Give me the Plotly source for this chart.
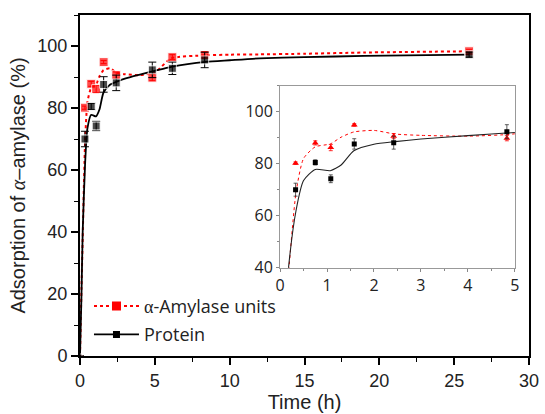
import plotly.graph_objects as go

# ---- data ----
time_h = [0, 0.33, 0.75, 1.08, 1.58, 2.42, 4.83, 6.17, 8.33, 26]
protein = [0, 70.0, 80.5, 74.2, 87.6, 88.1, 92.3, 92.8, 95.5, 97.2]
protein_err = [0, 2.5, 1.0, 1.5, 2.5, 2.5, 2.5, 2.0, 2.5, 0.8]
units = [0, 80.1, 87.8, 86.1, 94.8, 90.6, 89.8, 96.4, 97.1, 98.3]
units_err = [0, 0.5, 0.8, 1.2, 0.5, 1.0, 1.0, 0.8, 1.0, 0.5]

inset_time = [0.33, 0.75, 1.08, 1.58, 2.42, 4.83]
inset_protein = [70.0, 80.5, 74.2, 87.6, 88.1, 92.3]
inset_protein_err = [2.5, 1.0, 1.5, 2.0, 2.5, 2.7]
inset_units = [80.2, 88.0, 86.2, 94.9, 90.6, 89.8]
inset_units_err = [0.5, 0.8, 1.2, 0.5, 1.0, 1.0]

fit_time = [0, 0.1, 0.18, 0.34, 0.5, 0.75, 1.07, 1.3, 1.57, 2.0, 2.45, 3.0, 4.0, 5.0, 6.1, 8.4, 10, 12, 15, 19, 26]
fit_protein = [0, 20, 40, 62, 73.5, 77.8, 77.3, 79.5, 85, 87.5, 88.5, 89.5, 90.8, 92.0, 93.3, 94.9, 95.4, 96.0, 96.4, 96.8, 97.2]
fit_units = [0, 22, 38, 69, 82, 86.5, 87.6, 90.2, 92.2, 92.8, 91.4, 90.9, 90.6, 91.5, 96.0, 97.0, 97.2, 97.3, 97.5, 97.9, 98.3]

x_ticks = [0, 5, 10, 15, 20, 25, 30]
y_ticks = [0, 20, 40, 60, 80, 100]

RED = "#ff0000"
BLK = "#000000"
FONT = "Liberation Sans"

# marker sizes: the t=0 point is drawn as a tiny dot
units_size = [0 if t == 0 else 9 for t in time_h]
protein_size = [4 if t == 0 else 8 for t in time_h]

fig = go.Figure()

# main fits
fig.add_trace(go.Scatter(x=fit_time, y=fit_units, mode="lines", showlegend=False,
                         line=dict(color=RED, width=2, dash="dot", shape="spline", smoothing=0.6)))
fig.add_trace(go.Scatter(x=fit_time, y=fit_protein, mode="lines", showlegend=False,
                         line=dict(color=BLK, width=1.8, shape="spline", smoothing=0.6)))
# main markers
fig.add_trace(go.Scatter(x=time_h, y=units, mode="markers", showlegend=False,
                         marker=dict(symbol="square", size=units_size, color=RED),
                         error_y=dict(type="data", array=units_err, color=RED, thickness=1, width=3)))
fig.add_trace(go.Scatter(x=time_h, y=protein, mode="markers", showlegend=False,
                         marker=dict(symbol="square", size=protein_size, color=BLK),
                         error_y=dict(type="data", array=protein_err, color=BLK, thickness=1, width=4)))
# legend entries
fig.add_trace(go.Scatter(x=[None], y=[None], mode="lines+markers",
                         name="<span style='font-family:Liberation Serif'>α</span>-Amylase units",
                         legendgroup="a", line=dict(color=RED, width=2, dash="dot"),
                         marker=dict(symbol="square", size=9, color=RED)))
fig.add_trace(go.Scatter(x=[None], y=[None], mode="lines+markers", name="Protein",
                         legendgroup="b", line=dict(color=BLK, width=1.8),
                         marker=dict(symbol="square", size=7, color=BLK)))

# inset
fig.add_trace(go.Scatter(x=fit_time, y=fit_units, mode="lines", showlegend=False, xaxis="x2", yaxis="y2",
                         line=dict(color=RED, width=1, dash="dot", shape="spline", smoothing=0.6)))
fig.add_trace(go.Scatter(x=fit_time, y=fit_protein, mode="lines", showlegend=False, xaxis="x2", yaxis="y2",
                         line=dict(color="#222222", width=1.1, shape="spline", smoothing=0.6)))
fig.add_trace(go.Scatter(x=inset_time, y=inset_units, mode="markers", showlegend=False, xaxis="x2", yaxis="y2",
                         marker=dict(symbol="triangle-up", size=6, color=RED),
                         error_y=dict(type="data", array=inset_units_err, color=RED, thickness=0.8, width=2)))
fig.add_trace(go.Scatter(x=inset_time, y=inset_protein, mode="markers", showlegend=False, xaxis="x2", yaxis="y2",
                         marker=dict(symbol="square", size=5, color=BLK),
                         error_y=dict(type="data", array=inset_protein_err, color="#333333", thickness=0.8, width=2)))

fig.update_layout(
    width=545, height=414,
    margin=dict(l=80, r=11, t=15, b=58),
    paper_bgcolor="white", plot_bgcolor="white",
    font=dict(family=FONT, size=18, color="#222222"),
    xaxis=dict(range=[0, 30], tickvals=x_ticks, ticks="outside", ticklen=7, tickwidth=1.5,
               tickcolor=BLK, showline=True, linecolor=BLK, linewidth=2, mirror=True,
               showgrid=False, zeroline=False, automargin=False,
               minor=dict(dtick=2.5, ticks="outside", ticklen=4, tickcolor=BLK, tickwidth=1.2),
               title=dict(text="Time (h)", font=dict(size=20), standoff=4)),
    yaxis=dict(range=[0, 110], tickvals=y_ticks, ticks="outside", ticklen=7, tickwidth=1.5,
               tickcolor=BLK, showline=True, linecolor=BLK, linewidth=2, mirror=True,
               showgrid=False, zeroline=False, automargin=False,
               minor=dict(dtick=10, ticks="outside", ticklen=4, tickcolor=BLK, tickwidth=1.2),
               title=dict(text="Adsorption of <span style='font-family:Liberation Serif'><i>α</i></span>–amylase (%)",
                          font=dict(size=20), standoff=6)),
    xaxis2=dict(domain=[0.4456, 0.9685], anchor="y2", range=[0, 5], dtick=1, ticks="outside",
                ticklen=3, tickcolor="#888888", showline=True, linecolor="#999999", linewidth=1,
                mirror=True, showgrid=False, zeroline=False,
                minor=dict(dtick=0.5, ticks="outside", ticklen=2, tickcolor="#888888"),
                tickfont=dict(family="Open Sans", size=16, color="#222222")),
    yaxis2=dict(domain=[0.259, 0.7927], anchor="x2", range=[40, 110], tickvals=[40, 60, 80, 100],
                ticks="outside", ticklen=3, tickcolor="#888888", showline=True, linecolor="#999999",
                linewidth=1, mirror=True, showgrid=False, zeroline=False,
                minor=dict(dtick=10, ticks="outside", ticklen=2, tickcolor="#888888"),
                tickfont=dict(family="Open Sans", size=16, color="#222222")),
    legend=dict(x=0.02, y=0.2, xanchor="left", yanchor="top", bgcolor="rgba(0,0,0,0)",
                font=dict(family="Open Sans", size=18, color="#222222"), tracegroupgap=2,
                itemwidth=45),
)

fig.write_html("out.html", config={"displayModeBar": False},
               post_script="document.body.style.margin='0';document.body.style.overflow='hidden';")
